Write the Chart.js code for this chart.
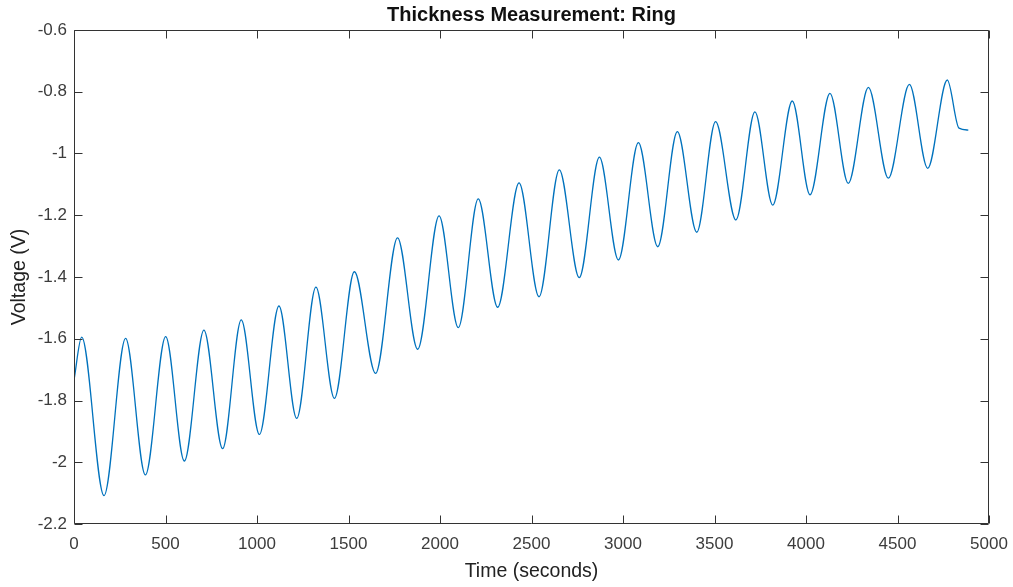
<!DOCTYPE html>
<html>
<head>
<meta charset="utf-8">
<script src="https://cdn.jsdelivr.net/npm/chart.js@4/dist/chart.umd.min.js"></script>
<style>
  html, body { margin: 0; padding: 0; background: #fff; }
  #wrap { width: 1013px; height: 587px; }
</style>
</head>
<body>
<div id="wrap"><canvas id="c" width="1013" height="587"></canvas></div>
<script>
// Time (s) of each read-off point (start, alternating peaks / troughs, end)
const timeSec = [0, 42, 164, 282, 390, 501, 603, 710, 812, 914, 1013, 1120, 1217, 1322, 1423,
  1532, 1648, 1768, 1878, 1995, 2100, 2209, 2315, 2432, 2541, 2652, 2761, 2871, 2975,
  3084, 3190, 3297, 3403, 3506, 3617, 3721, 3818, 3925, 4022, 4131, 4231, 4341, 4450,
  4565, 4665, 4772, 4836, 4887];
// Voltage (V) at those times
const voltage = [-1.734, -1.595, -2.108, -1.599, -2.041, -1.593, -1.996, -1.572, -1.956, -1.539, -1.910,
  -1.494, -1.858, -1.433, -1.793, -1.383, -1.712, -1.273, -1.634, -1.202, -1.564, -1.147, -1.498,
  -1.095, -1.464, -1.053, -1.402, -1.012, -1.345, -0.965, -1.302, -0.929, -1.255, -0.897, -1.215,
  -0.865, -1.167, -0.830, -1.134, -0.805, -1.097, -0.786, -1.080, -0.776, -1.048, -0.762, -0.918, -0.924];

const xTickValues = [0, 500, 1000, 1500, 2000, 2500, 3000, 3500, 4000, 4500, 5000];
const xTickLabels = ['0', '500', '1000', '1500', '2000', '2500', '3000', '3500', '4000', '4500', '5000'];
const yTickValues = [-2.2, -2, -1.8, -1.6, -1.4, -1.2, -1, -0.8, -0.6];
const yTickLabels = ['-2.2', '-2', '-1.8', '-1.6', '-1.4', '-1.2', '-1', '-0.8', '-0.6'];

const points = timeSec.map((t, i) => ({ x: t, y: voltage[i] }));

const AXIS_COLOR = '#333333';
const TEXT_COLOR = '#3c3c3c';
const FONT = 'Liberation Sans, Arial, Helvetica, sans-serif';

const boxPlugin = {
  id: 'matlabBox',
  afterLayout(chart) {
    // center the title over the plot area, as MATLAB does
    if (chart.titleBlock) {
      chart.titleBlock.left = chart.chartArea.left;
      chart.titleBlock.right = chart.chartArea.right;
    }
  },
  afterDraw(chart) {
    const { ctx, chartArea: a, scales } = chart;
    const x = scales.x, y = scales.y;
    const L = Math.round(a.left) + 0.5, R = Math.round(a.right) - 0.5;
    const T = Math.round(a.top) + 0.5, B = Math.round(a.bottom) - 0.5;
    const tl = 8;
    ctx.save();
    ctx.strokeStyle = AXIS_COLOR;
    ctx.lineWidth = 1;
    ctx.beginPath();
    ctx.rect(L, T, R - L, B - T);
    x.ticks.forEach(tk => {
      const px = Math.round(x.getPixelForValue(tk.value)) + 0.5;
      ctx.moveTo(px, B); ctx.lineTo(px, B - tl);
      ctx.moveTo(px, T); ctx.lineTo(px, T + tl);
    });
    y.ticks.forEach(tk => {
      const py = Math.round(y.getPixelForValue(tk.value)) + 0.5;
      ctx.moveTo(L, py); ctx.lineTo(L + tl, py);
      ctx.moveTo(R, py); ctx.lineTo(R - tl, py);
    });
    ctx.stroke();
    ctx.restore();
  }
};

new Chart(document.getElementById('c'), {
  type: 'line',
  data: {
    datasets: [{
      data: points,
      borderColor: '#0072BD',
      borderWidth: 1.3,
      pointRadius: 0,
      fill: false,
      cubicInterpolationMode: 'monotone'
    }]
  },
  options: {
    responsive: false,
    animation: false,
    layout: { padding: { left: 0, right: 24, top: 0, bottom: 0 } },
    plugins: {
      legend: { display: false },
      tooltip: { enabled: false },
      title: {
        display: true,
        text: 'Thickness Measurement: Ring',
        color: '#111',
        font: { family: FONT, size: 20, weight: 'bold' },
        padding: { top: 3, bottom: 3 }
      }
    },
    scales: {
      x: {
        type: 'linear',
        min: 0, max: 5000,
        afterBuildTicks: s => { s.ticks = xTickValues.map(v => ({ value: v })); },
        afterFit: s => { s.height = 63; s.paddingLeft = 0; s.paddingRight = 0; },
        grid: { display: false, drawTicks: false },
        border: { display: false },
        ticks: {
          color: TEXT_COLOR,
          font: { family: FONT, size: 17 },
          padding: 10,
          maxRotation: 0,
          autoSkip: false,
          callback: (v) => xTickLabels[xTickValues.indexOf(v)]
        },
        title: {
          display: true,
          text: 'Time (seconds)',
          color: '#222',
          font: { family: FONT, size: 19.5 },
          padding: { top: 0, bottom: 4 }
        }
      },
      y: {
        type: 'linear',
        min: -2.2, max: -0.6,
        afterBuildTicks: s => { s.ticks = yTickValues.map(v => ({ value: v })); },
        afterFit: s => { s.width = 74; },
        grid: { display: false, drawTicks: false },
        border: { display: false },
        ticks: {
          color: TEXT_COLOR,
          font: { family: FONT, size: 17 },
          padding: 7,
          autoSkip: false,
          callback: (v) => {
            const i = yTickValues.findIndex(t => Math.abs(t - v) < 1e-9);
            return i >= 0 ? yTickLabels[i] : '';
          }
        },
        title: {
          display: true,
          text: 'Voltage (V)',
          color: '#222',
          font: { family: FONT, size: 19.5 },
          padding: { top: 8, bottom: 0 }
        }
      }
    }
  },
  plugins: [boxPlugin]
});
</script>
</body>
</html>
